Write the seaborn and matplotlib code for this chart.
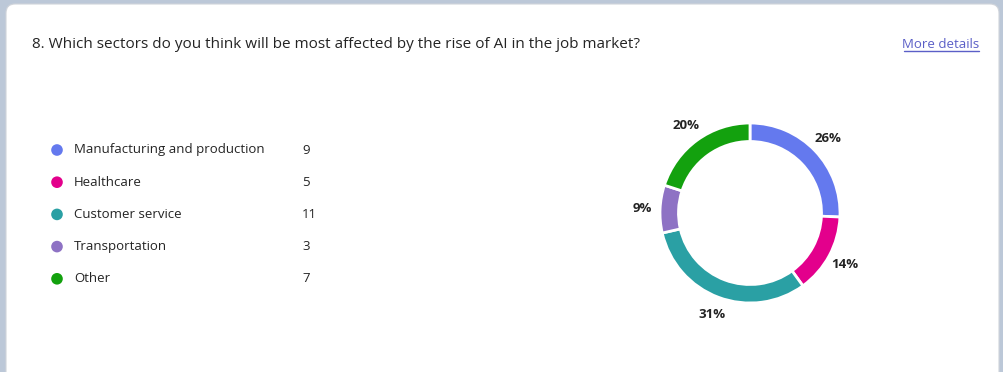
import matplotlib
matplotlib.use('Agg')
import matplotlib.pyplot as plt
from matplotlib.patches import FancyBboxPatch
import seaborn as sns
import pandas as pd

# Survey answers
question = '8. Which sectors do you think will be most affected by the rise of AI in the job market?'
sectors = ['Manufacturing and production', 'Healthcare', 'Customer service', 'Transportation', 'Other']
counts = [9, 5, 11, 3, 7]
colors = ['#6479EE', '#E3008C', '#2AA0A4', '#8E72C4', '#13A10E']

W, H = 1004, 372

sns.set_theme(style='white')
plt.rcParams['font.family'] = ['Open Sans', 'DejaVu Sans']

fig = plt.figure(figsize=(W / 100, H / 100), dpi=100)
fig.patch.set_facecolor('#bcc8d8')

# Overlay axes in pixel coordinates (origin top-left)
ax = fig.add_axes([0, 0, 1, 1])

card = FancyBboxPatch((6, 4), 993, 380, boxstyle='round,pad=0,rounding_size=9',
                      facecolor='white', edgecolor='#d0d4da', linewidth=0.8)
ax.add_patch(card)

ax.text(32, 44, question, fontsize=11, color='#242424', va='center', ha='left')

# More details link
ax.text(979, 44, 'More details', fontsize=9.5, color='#5b5fc7', va='center', ha='right')
ax.plot([904, 979], [51, 51], color='#5b5fc7', linewidth=1)

# Legend with counts
legend_df = pd.DataFrame({'sector': sectors, 'count': counts,
                          'x': [57] * len(sectors),
                          'y': [150 + 32.2 * i for i in range(len(sectors))]})
sns.scatterplot(data=legend_df, x='x', y='y', hue='sector', palette=colors,
                s=70, edgecolor='none', legend=False, ax=ax)
for _, row in legend_df.iterrows():
    ax.text(74, row['y'], row['sector'], fontsize=9.5, color='#242424', va='center')
    ax.text(302, row['y'], str(row['count']), fontsize=9.5, color='#242424', va='center')
ax.set_xlim(0, W)
ax.set_ylim(H, 0)
ax.axis('off')

# Donut chart
cx, cy, r = 750, H - 213, 100
pax = fig.add_axes([(cx - r) / W, (cy - r) / H, 2 * r / W, 2 * r / H])
wedges, texts = pax.pie(
    counts, colors=colors, startangle=90, counterclock=False, radius=0.9,
    labels=[f'{c / sum(counts) * 100:.0f}%' for c in counts], labeldistance=1.2,
    wedgeprops=dict(width=0.185, edgecolor='white', linewidth=2),
    textprops=dict(fontsize=9.5, color='#242424', fontweight='bold'),
)
for t in texts:
    t.set_ha('center')
    t.set_va('center')
pax.set_xlim(-1, 1)
pax.set_ylim(-1, 1)
pax.set_aspect('equal')
pax.axis('off')

fig.savefig('out.png', dpi=100, facecolor=fig.get_facecolor())
